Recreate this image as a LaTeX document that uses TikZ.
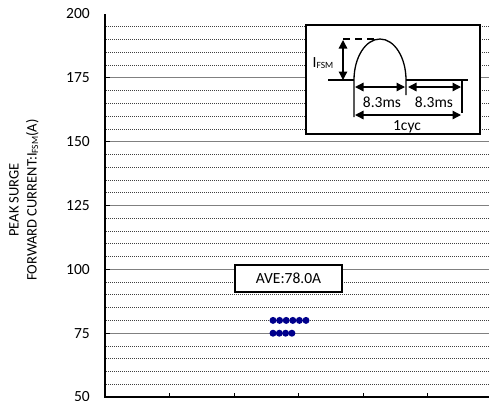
\documentclass[tikz,border=0pt]{standalone}
\usepackage{fontspec}
\setmainfont{Carlito}
\usetikzlibrary{arrows.meta}
\definecolor{navy}{RGB}{0,0,140}
\newcommand{\subfsm}{{\fontsize{9.5}{10}\selectfont\raisebox{-1.5pt}{FSM}}}
\begin{document}
\begin{tikzpicture}[x=1pt,y=-1pt,
  minor/.style={line width=0.8pt, black!75, dash pattern=on 1pt off 1pt},
  major/.style={line width=1.1pt, black!50},
  axisline/.style={line width=2pt, black, line join=miter},
  tickline/.style={line width=1pt, black},
  lbl/.style={font=\fontsize{15.5}{18}\selectfont, inner sep=0pt},
  dimarrow/.style={line width=1.3pt, {Triangle[length=8.5pt,width=8.5pt]}-{Triangle[length=8.5pt,width=8.5pt]}},
  thin/.style={line width=1.3pt},
  boxed/.style={draw=black, line width=1.5pt, fill=white, inner sep=0pt},
  dotmark/.style={circle, fill=navy, inner sep=0pt, minimum size=7pt}]
\useasboundingbox (0,0) rectangle (489,400);
% minor grid
\foreach \v in {55,60,...,195} {
  \pgfmathsetmacro\yy{397-(\v-50)*2.5533}
  \draw[minor] (106,\yy) -- (489,\yy);
}
% major grid
\foreach \v in {75,100,...,175} {
  \pgfmathsetmacro\yy{397-(\v-50)*2.5533}
  \draw[major] (106,\yy) -- (489,\yy);
  \draw[tickline] (105,\yy) -- (110,\yy);
}
% y labels
\foreach \v in {50,75,...,200} {
  \pgfmathsetmacro\yy{397-(\v-50)*2.5533}
  \node[lbl, anchor=east] (t\v) at (90,\yy) {\v};
}
% axes
\coordinate (top) at (105,14);
\coordinate (origin) at (105,397);
\coordinate (right) at (489,397);
\draw[axisline] (top) -- (origin) -- (right);
\foreach \i in {1,...,5} {
  \pgfmathsetmacro\xx{105+64.5*\i}
  \draw[tickline] (\xx,397) -- (\xx,393);
}
% axis title
\node[font=\fontsize{14.5}{18}\selectfont, align=center, rotate=90, inner sep=0pt] (ytitle) at (24,200)
  {PEAK SURGE\\FORWARD CURRENT:I\subfsm(A)};
% inset
\node[boxed, minimum width=174pt, minimum height=109pt, anchor=north west] (inset) at (305,24) {};
\coordinate (b1) at (328,80);
\coordinate (b2) at (354,80);
\coordinate (b3) at (354,117);
\coordinate (r1) at (406,95);
\coordinate (c1) at (406,80);
\coordinate (c2) at (468,80);
\coordinate (v1) at (462,80);
\coordinate (v2) at (462,113);
\draw[thin] (b1) -- (b2);
\draw[thin] (b3) -- (b2) arc[start angle=180, end angle=360, x radius=26, y radius=41] -- (r1);
\draw[thin] (c1) -- (c2);
\draw[thin] (v1) -- (v2);
\coordinate (d1) at (343,39);
\coordinate (d2) at (377,39);
\draw[thin, dash pattern=on 7pt off 5pt] (d1) -- (d2);
\coordinate (h1) at (343,40);
\coordinate (h2) at (343,80);
\draw[dimarrow] (h1) -- (h2);
\coordinate (a1) at (355,87);
\coordinate (a2) at (405,87);
\coordinate (a3) at (408,87);
\coordinate (a4) at (461,87);
\coordinate (a5) at (355,115);
\coordinate (a6) at (461,115);
\draw[dimarrow] (a1) -- (a2);
\draw[dimarrow] (a3) -- (a4);
\draw[dimarrow] (a5) -- (a6);
\node[lbl] (ifsm) at (323,63) {I\subfsm};
\node[lbl] (m1) at (382,102) {8.3ms};
\node[lbl] (m2) at (434,102) {8.3ms};
\node[lbl] (cyc) at (407,127) {1cyc};
% average box
\node[boxed, lbl, minimum width=107pt, minimum height=27pt] (ave) at (288.5,278.5) {AVE:78.0A};
% data points
\foreach \i in {0,...,5} {
  \pgfmathsetmacro\xx{273+6.6*\i}
  \node[dotmark] (p80\i) at (\xx,320.4) {};
}
\foreach \i in {0,...,3} {
  \pgfmathsetmacro\xx{273+6.3*\i}
  \node[dotmark] (p75\i) at (\xx,333.2) {};
}
\end{tikzpicture}
\end{document}
